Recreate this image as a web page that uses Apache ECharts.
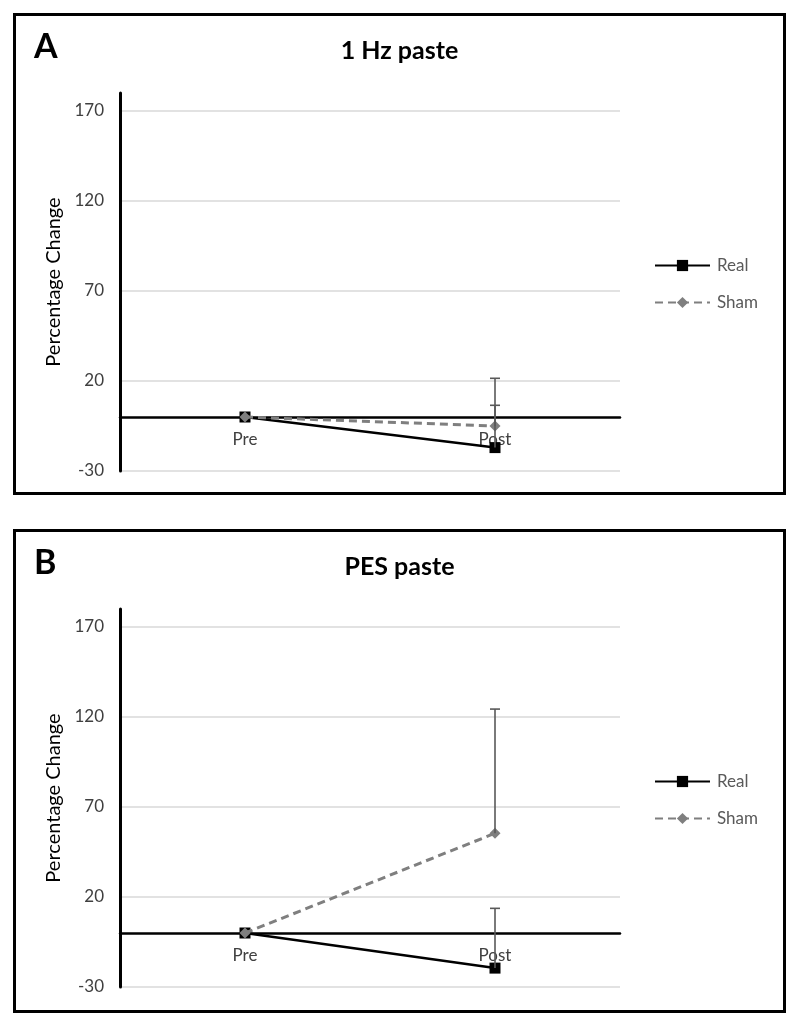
<!DOCTYPE html>
<html>
<head>
<meta charset="utf-8">
<script src="https://cdn.jsdelivr.net/npm/echarts@6/dist/echarts.min.js"></script>
<style>
  html, body { margin: 0; padding: 0; background: #fff; }
  body { width: 800px; height: 1026px; position: relative; }
  .panel { position: absolute; left: 13px; width: 773px; box-sizing: border-box; border: 3.5px solid #000; }
  #pa { top: 13px; height: 482px; }
  #pb { top: 529px; height: 484px; }
</style>
</head>
<body>
<div id="pa" class="panel"></div>
<div id="pb" class="panel"></div>
<script>
// ---- data ----
const categories = ['Pre', 'Post'];
const seriesNames = ['Real', 'Sham'];
const panelLetters = ['A', 'B'];
const panelTitles = ['1 Hz paste', 'PES paste'];
const yTicks = [-30, 20, 70, 120, 170];
const yMin = -30;
const yMax = 180;
const yStep = 50;

const realA = [0, -17];
const shamA = [0, -5];
const realErrA = [null, 23.5];
const shamErrA = [null, 26.5];

const realB = [0, -19.5];
const shamB = [0, 55.4];
const realErrB = [null, 33.2];
const shamErrB = [null, 69];

const FONT = 'Lato, "Open Sans", sans-serif';
const GRID_H = 378;

function errorSeries(values, errs) {
  const data = [];
  for (let i = 0; i < values.length; i++) {
    if (errs[i] != null) data.push([i, values[i], values[i] + errs[i]]);
  }
  return {
    type: 'custom',
    silent: true,
    z: 5,
    data: data,
    renderItem: function (params, api) {
      const x = api.value(0);
      const p0 = api.coord([x, api.value(1)]);
      const p1 = api.coord([x, api.value(2)]);
      const hw = 5;
      const st = { stroke: '#595959', lineWidth: 1.6 };
      return {
        type: 'group',
        children: [
          { type: 'line', shape: { x1: p0[0], y1: p0[1], x2: p1[0], y2: p1[1] }, style: st },
          { type: 'line', shape: { x1: p1[0] - hw, y1: p1[1], x2: p1[0] + hw, y2: p1[1] }, style: st }
        ]
      };
    }
  };
}

function makeOption(letter, title, real, sham, realErr, shamErr) {
  // x axis sits on the zero value: shift it up from the grid bottom
  const zeroOffset = -(0 - yMin) / (yMax - yMin) * GRID_H;
  return {
    animation: false,
    textStyle: { fontFamily: FONT },
    title: [
      { text: letter, left: 13, top: 9, textStyle: { fontFamily: FONT, fontSize: 34, fontWeight: 'bold', color: '#000' } },
      { text: title, left: 'center', top: 17, textStyle: { fontFamily: FONT, fontSize: 25, fontWeight: 'bold', color: '#000' } }
    ],
    legend: {
      orient: 'vertical',
      left: 633,
      top: 236,
      itemWidth: 55,
      itemHeight: 14,
      itemGap: 20,
      data: seriesNames,
      textStyle: { fontFamily: FONT, fontSize: 17, color: '#595959', lineHeight: 14, padding: [0, 0, 0, 2] }
    },
    grid: { left: 104, top: 77, width: 500, height: GRID_H, outerBoundsMode: 'none', containLabel: false },
    xAxis: {
      type: 'category',
      data: categories,
      offset: zeroOffset,
      axisLine: { onZero: false, lineStyle: { color: '#000', width: 2.5 } },
      axisTick: { show: false },
      axisLabel: { margin: 14, fontFamily: FONT, fontSize: 17, color: '#404040' },
      splitLine: { show: false }
    },
    yAxis: {
      type: 'value',
      min: yMin,
      max: yMax,
      interval: yStep,
      name: 'Percentage Change',
      nameLocation: 'middle',
      nameGap: 49,
      nameTextStyle: { fontFamily: FONT, fontSize: 20, color: '#000' },
      axisLine: { show: true, onZero: false, lineStyle: { color: '#000', width: 3 } },
      axisTick: { show: false },
      axisLabel: {
        margin: 16, fontFamily: FONT, fontSize: 17, color: '#404040', showMaxLabel: false,
        formatter: function (v) { return yTicks.indexOf(v) >= 0 ? String(v) : ''; }
      },
      splitLine: { show: true, showMaxLine: false, lineStyle: { color: '#d9d9d9', width: 1.5 } }
    },
    series: [
      {
        name: 'Real', type: 'line', data: real, z: 3,
        symbol: 'rect', symbolSize: 11,
        itemStyle: { color: '#000' },
        lineStyle: { color: '#000', width: 2.5 }
      },
      {
        name: 'Sham', type: 'line', data: sham, z: 4,
        symbol: 'diamond', symbolSize: 11,
        itemStyle: { color: '#7f7f7f' },
        lineStyle: { color: '#7f7f7f', width: 3, type: [8, 5] }
      },
      errorSeries(real, realErr),
      errorSeries(sham, shamErr)
    ]
  };
}

const ca = echarts.init(document.getElementById('pa'), null, { renderer: 'canvas' });
ca.setOption(makeOption(panelLetters[0], panelTitles[0], realA, shamA, realErrA, shamErrA));
const cb = echarts.init(document.getElementById('pb'), null, { renderer: 'canvas' });
cb.setOption(makeOption(panelLetters[1], panelTitles[1], realB, shamB, realErrB, shamErrB));
</script>
</body>
</html>
